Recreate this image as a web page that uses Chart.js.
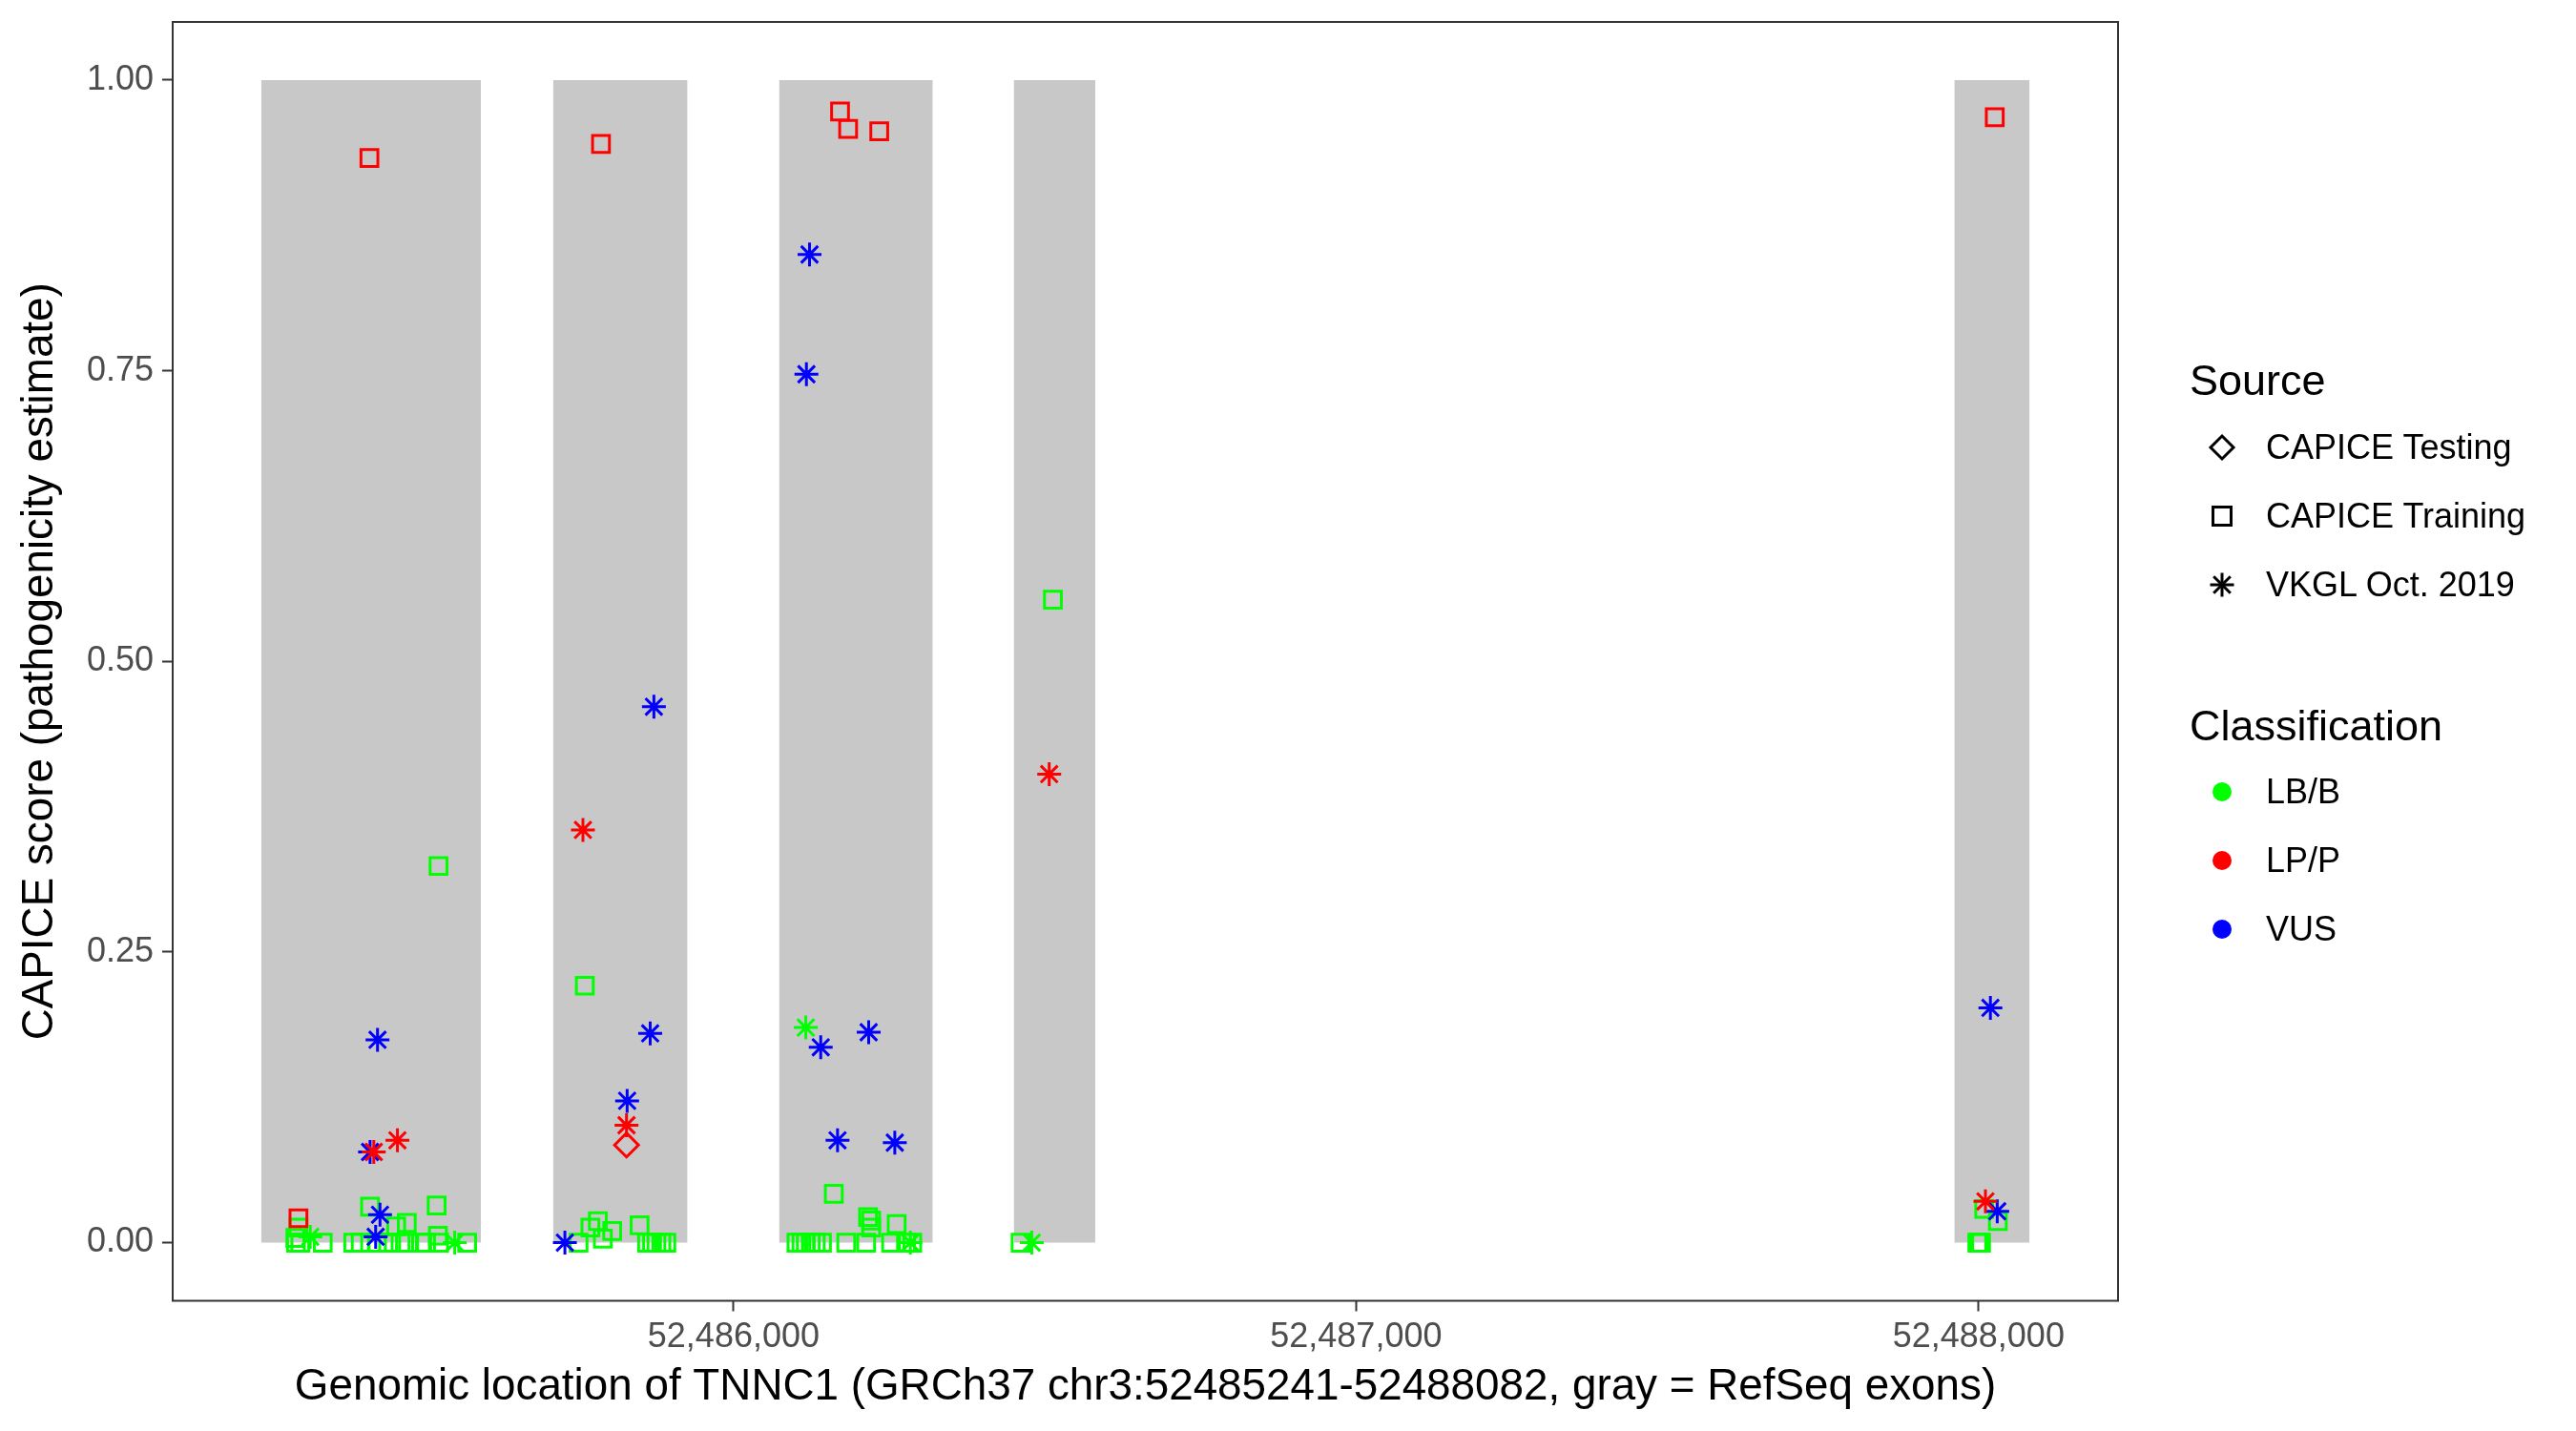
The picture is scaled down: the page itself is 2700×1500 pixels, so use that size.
<!DOCTYPE html>
<html>
<head>
<meta charset="utf-8">
<script src="https://cdn.jsdelivr.net/npm/chart.js@4.4.1/dist/chart.umd.min.js"></script>
<style>
  body { margin: 0; background: #fff; }
  #wrap { position: relative; width: 2700px; height: 1500px; font-family: "Liberation Sans", Arial, sans-serif; }
  #chart { position: absolute; left: 0; top: 0; }
  .lg { position: absolute; line-height: 1; white-space: nowrap; color: #000; }
  .lgTitle { font-size: 45px; }
  .lgLabel { font-size: 36px; }
  .lgKey { position: absolute; }
</style>
</head>
<body>
<div id="wrap">
  <canvas id="chart" width="2700" height="1500"></canvas>
  <div id="legend"></div>
</div>
<script>
// DATA

const dataMin = 52485241;
const dataMax = 52488082;

const exonStart = [52485241, 52485710, 52486073, 52486450, 52487961];
const exonEnd   = [52485594, 52485926, 52486320, 52486581, 52488082];
const exonLow = 0;
const exonHigh = 1;

const xTicks = [52486000, 52487000, 52488000];
const yTicks = [0, 0.25, 0.5, 0.75, 1];

// CAPICE Training, LB/B
const trainBenignX = [
    52485526, 52485301, 52485296, 52485416, 52485523, 52485475, 52485458, 52485525,
    52485297, 52485304, 52485340, 52485389, 52485401, 52485427, 52485445, 52485465,
    52485477, 52485498, 52485506, 52485527, 52485572,
    52485761, 52485751, 52485770, 52485782, 52485790, 52485805, 52485849,
    52485861, 52485869, 52485876, 52485884, 52485892,
    52486161, 52486216, 52486221, 52486221, 52486262,
    52486101, 52486109, 52486116, 52486124, 52486132, 52486142, 52486181, 52486213,
    52486253, 52486277, 52486287,
    52486513, 52486461,
    52488009, 52488031, 52487998, 52488001, 52488004
];
const trainBenignY = [
    0.324, 0.013, 0.004, 0.031, 0.032, 0.017, 0.014, 0.006,
    0, 0, 0, 0, 0, 0, 0, 0,
    0, 0, 0, 0, 0,
    0.221, 0, 0.013, 0.0185, 0.0034, 0.010, 0.015,
    0, 0, 0, 0, 0,
    0.042, 0.022, 0.019, 0.013, 0.016,
    0, 0, 0, 0, 0, 0, 0, 0,
    0, 0, 0,
    0.553, 0,
    0.029, 0.0185, 0, 0, 0
];

// CAPICE Training, LP/P
const trainPathX = [52485415, 52485301, 52485787, 52486171, 52486184, 52486234, 52488026];
const trainPathY = [0.933, 0.021, 0.945, 0.973, 0.958, 0.956, 0.968];

// CAPICE Testing, LP/P
const testPathX = [52485828];
const testPathY = [0.084];

// VKGL, LB/B
const vkglBenignX = [52485320, 52485552, 52486116, 52486284, 52486479];
const vkglBenignY = [0.005, 0, 0.185, 0, 0];

// VKGL, LP/P
const vkglPathX = [52485460, 52485422, 52485758, 52485828, 52486507, 52488011];
const vkglPathY = [0.088, 0.078, 0.355, 0.101, 0.403, 0.0355];

// VKGL, VUS
const vkglVusX = [
    52485428, 52485416, 52485432, 52485425, 52485872, 52485866, 52485829, 52485729,
    52486122, 52486117, 52486140, 52486217, 52486167, 52486259, 52488019, 52488030
];
const vkglVusY = [
    0.1745, 0.078, 0.024, 0.005, 0.461, 0.180, 0.122, 0,
    0.850, 0.747, 0.168, 0.181, 0.088, 0.086, 0.202, 0.027
];

const sourceLabels = ["CAPICE Testing", "CAPICE Training", "VKGL Oct. 2019"];
const classLabels = ["LB/B", "LP/P", "VUS"];

const GREEN = "#00ff00";
const RED = "#ff0000";
const BLUE = "#0000ff";

// HELPERS

function toPoints(xs, ys) {
    return xs.map((x, i) => ({ x: x, y: ys[i] }));
}

function pointSet(xs, ys, style, color) {
    return {
        type: "scatter",
        data: toPoints(xs, ys),
        pointStyle: style,
        pointRadius: 12.5,
        pointHoverRadius: 12.5,
        pointBorderWidth: 3,
        pointBorderColor: color,
        pointBackgroundColor: "rgba(0,0,0,0)",
        borderColor: color,
        backgroundColor: "rgba(0,0,0,0)",
        order: 0
    };
}

// EXON BLOCKS

const exonSets = exonStart.map((s, i) => ({
    type: "line",
    data: [
        { x: s, y: exonLow },
        { x: s, y: exonHigh },
        { x: exonEnd[i], y: exonHigh },
        { x: exonEnd[i], y: exonLow }
    ],
    backgroundColor: "#c8c8c8",
    borderColor: "rgba(0,0,0,0)",
    borderWidth: 0,
    pointRadius: 0,
    tension: 0,
    fill: "origin",
    order: 1
}));

// PANEL BORDER

const panelBorder = {
    id: "panelBorder",
    afterDatasetsDraw(chart) {
        const { ctx, chartArea: a } = chart;
        ctx.save();
        ctx.strokeStyle = "#333333";
        ctx.lineWidth = 2;
        ctx.strokeRect(a.left, a.top, a.right - a.left, a.bottom - a.top);
        ctx.restore();
    }
};

// CHART

const pad = (dataMax - dataMin) * 0.05;

Chart.defaults.font.family = '"Liberation Sans", Arial, sans-serif';

new Chart(document.getElementById("chart"), {
    type: "scatter",
    data: {
        datasets: [
            pointSet(vkglPathX, vkglPathY, "star", RED),
            pointSet(vkglVusX, vkglVusY, "star", BLUE),
            pointSet(vkglBenignX, vkglBenignY, "star", GREEN),
            pointSet(testPathX, testPathY, "rectRot", RED),
            pointSet(trainPathX, trainPathY, "rect", RED),
            pointSet(trainBenignX, trainBenignY, "rect", GREEN),
            ...exonSets
        ]
    },
    options: {
        responsive: false,
        animation: false,
        layout: { padding: { top: 23, right: 480, left: 0, bottom: 0 } },
        plugins: {
            legend: { display: false },
            tooltip: { enabled: false }
        },
        scales: {
            x: {
                type: "linear",
                min: dataMin - pad,
                max: dataMax + pad,
                afterFit: s => { s.height = 136.5; s.paddingLeft = 0; s.paddingRight = 0; },
                afterBuildTicks: s => { s.ticks = xTicks.map(v => ({ value: v })); },
                grid: { display: true, drawOnChartArea: false, drawTicks: true, tickLength: 11, tickWidth: 2, tickColor: "#333333" },
                border: { display: false },
                ticks: {
                    font: { size: 36 },
                    color: "#4d4d4d",
                    padding: 6,
                    maxRotation: 0,
                    callback: v => v.toLocaleString("en-US")
                },
                title: {
                    display: true,
                    text: "Genomic location of TNNC1 (GRCh37 chr3:52485241-52488082, gray = RefSeq exons)",
                    font: { size: 45.8 },
                    color: "#000",
                    padding: { top: 0, bottom: 18 }
                }
            },
            y: {
                type: "linear",
                min: -0.05,
                max: 1.05,
                afterFit: s => { s.width = 181; s.paddingTop = 0; s.paddingBottom = 0; },
                afterBuildTicks: s => { s.ticks = yTicks.map(v => ({ value: v })); },
                grid: { display: true, drawOnChartArea: false, drawTicks: true, tickLength: 11, tickWidth: 2, tickColor: "#333333" },
                border: { display: false },
                ticks: {
                    font: { size: 36 },
                    color: "#4d4d4d",
                    padding: 9,
                    callback: v => v.toFixed(2)
                },
                title: {
                    display: true,
                    text: "CAPICE score (pathogenicity estimate)",
                    font: { size: 45.8 },
                    color: "#000",
                    padding: { top: 15, bottom: 0 }
                }
            }
        }
    },
    plugins: [panelBorder]
});

// LEGEND

const keyX = 2329;
const titleX = 2295;
const labelX = 2375;

const sourceTitleY = 398;
const sourceRowY = [469, 541, 613];
const classTitleY = 760;
const classRowY = [830, 902, 974];

const sourceKeys = [
    '<polygon points="15,3 27,15 15,27 3,15" fill="none" stroke="#000" stroke-width="3"/>',
    '<rect x="5.5" y="5.5" width="19" height="19" fill="none" stroke="#000" stroke-width="3"/>',
    '<g stroke="#000" stroke-width="3"><line x1="15" y1="2.5" x2="15" y2="27.5"/><line x1="2.5" y1="15" x2="27.5" y2="15"/>' +
    '<line x1="6.2" y1="6.2" x2="23.8" y2="23.8"/><line x1="6.2" y1="23.8" x2="23.8" y2="6.2"/></g>'
];
const classColors = [GREEN, RED, BLUE];

const legend = document.getElementById("legend");

function addText(text, cls, x, cy, size) {
    const d = document.createElement("div");
    d.className = "lg " + cls;
    d.style.left = x + "px";
    d.style.top = (cy - size / 2) + "px";
    d.textContent = text;
    legend.appendChild(d);
}

function addKey(svgInner, cy) {
    const d = document.createElement("div");
    d.className = "lgKey";
    d.style.left = (keyX - 15) + "px";
    d.style.top = (cy - 15) + "px";
    d.innerHTML = '<svg width="30" height="30" viewBox="0 0 30 30">' + svgInner + '</svg>';
    legend.appendChild(d);
}

addText("Source", "lgTitle", titleX, sourceTitleY, 45);
sourceLabels.forEach((label, i) => {
    addKey(sourceKeys[i], sourceRowY[i]);
    addText(label, "lgLabel", labelX, sourceRowY[i], 36);
});

addText("Classification", "lgTitle", titleX, classTitleY, 45);
classLabels.forEach((label, i) => {
    addKey('<circle cx="15" cy="15" r="10" fill="' + classColors[i] + '"/>', classRowY[i]);
    addText(label, "lgLabel", labelX, classRowY[i], 36);
});
</script>
</body>
</html>
